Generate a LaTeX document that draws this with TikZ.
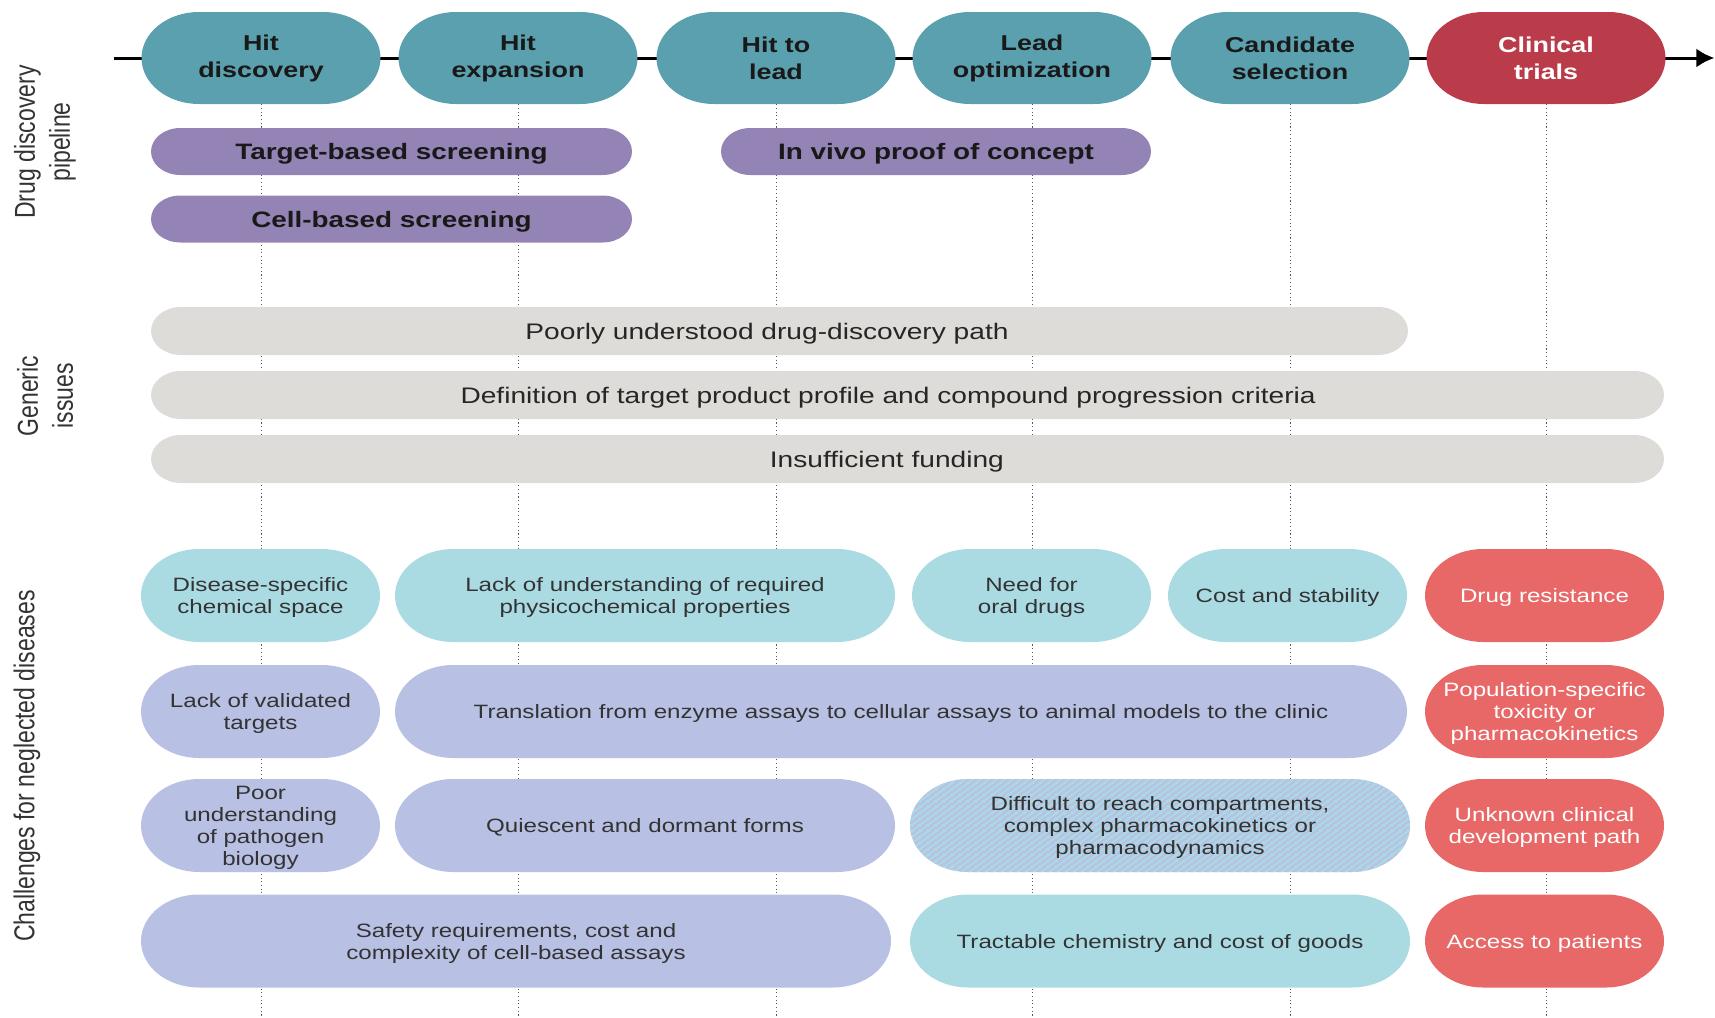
\documentclass[tikz,border=0pt]{standalone}
\usepackage{fontspec}
\setmainfont{Liberation Sans}
\usetikzlibrary{shapes.misc,arrows.meta,patterns}
\definecolor{tealc}{HTML}{5BA0AF}
\definecolor{redc}{HTML}{BA3B4A}
\definecolor{purplec}{HTML}{9483B5}
\definecolor{grayc}{HTML}{DDDCD8}
\definecolor{cyanc}{HTML}{AADBE3}
\definecolor{lavc}{HTML}{B8C0E4}
\definecolor{salc}{HTML}{E86868}
\pgfdeclarepatternformonly{wstripes}{\pgfqpoint{0pt}{0pt}}{\pgfqpoint{8pt}{6pt}}{\pgfqpoint{8pt}{6pt}}{%
  \pgfsetlinewidth{2.1pt}%
  \pgfpathmoveto{\pgfqpoint{-4pt}{-3pt}}\pgfpathlineto{\pgfqpoint{12pt}{9pt}}%
  \pgfpathmoveto{\pgfqpoint{-4pt}{3pt}}\pgfpathlineto{\pgfqpoint{4pt}{9pt}}%
  \pgfpathmoveto{\pgfqpoint{4pt}{-3pt}}\pgfpathlineto{\pgfqpoint{12pt}{3pt}}%
  \pgfusepath{stroke}}
\newcommand\fTop{\bfseries\fontsize{21.5}{27}\selectfont}
\newcommand\fPurp{\bfseries\fontsize{22.3}{27}\selectfont}
\newcommand\fGen{\fontsize{22.5}{27}\selectfont}
\newcommand\fChal{\fontsize{19.3}{22}\selectfont}
\newcommand\fSide{\fontsize{23}{28}\selectfont}
\tikzset{
  base/.style={rounded rectangle, inner sep=0pt, align=center},
  wd/.style={minimum width=#1pt/1.25},
  top/.style={base, fill=tealc, minimum height=92pt, wd=239, font=\fTop, text=black!90},
  purp/.style={base, fill=purplec, minimum height=47pt, text depth=0pt, font=\fPurp, text=black!90},
  genbar/.style={base, fill=grayc, minimum height=48pt, text depth=0pt, font=\fGen, text=black!85},
  chal/.style={base, minimum height=93pt, text depth=0pt, font=\fChal, text=black!80},
  cy/.style={chal, fill=cyanc},
  lav/.style={chal, fill=lavc},
  sal/.style={chal, fill=salc, text=white},
  hatch/.style={chal, preaction={fill=lavc}, pattern=wstripes, pattern color=cyanc},
  vdot/.style={draw=black!65, line width=1.1pt, dash pattern=on 1.1pt off 2.6pt},
  side/.style={rotate=90, font=\fSide, align=center, text=black!80},
}
\begin{document}
\begin{tikzpicture}[x=1pt,y=-1pt]
\useasboundingbox (0,0) rectangle (1715,1017);
\begin{scope}[x=0.8pt, y=-1pt, xscale=1.25, transform shape]
% side labels
\node[side] (lab1) at (45,142) {Drug discovery\\pipeline};
\node[side] (lab2) at (45,396) {Generic\\issues};
\node[side] (lab3) at (27,766) {Challenges for neglected diseases};
% timeline
\coordinate (lstart) at (114,58);
\coordinate (ltip) at (1714,58);
\draw[line width=3pt, -{Latex[length=18pt,width=19pt]}] (lstart) -- (ltip);
% top stages
\node[top] (p1) at (261,58) {Hit\\discovery};
\node[top] (p2) at (518,58) {Hit\\expansion};
\node[top] (p3) at (776,58) {Hit to\\lead};
\node[top] (p4) at (1032,58) {Lead\\optimization};
\node[top] (p5) at (1290,58) {Candidate\\selection};
\node[top, fill=redc, text=white] (p6) at (1546,58) {Clinical\\trials};
% dotted guides
\foreach \i/\x in {1/261,2/518,3/776,4/1032,5/1290,6/1546}{
  \coordinate (b\i) at (\x,1017);
  \draw[vdot] (p\i.south) -- (b\i);
}
% pipeline bars
\node[purp, wd=481] (tb) at (391.5,151.5) {Target-based screening};
\node[purp, wd=481] (cb) at (391.5,219) {Cell-based screening};
\node[purp, wd=430] (iv) at (936,151.5) {In vivo proof of concept};
% generic issues
\node[genbar, wd=1257] (g1) at (779.5,331) {Poorly understood drug-discovery path\hspace*{20pt}};
\node[genbar, wd=1513] (g2) at (907.5,395) {Definition of target product profile and compound progression criteria\hspace*{31pt}};
\node[genbar, wd=1513] (g3) at (907.5,459) {Insufficient funding\hspace*{33pt}};
% challenges
\node[cy, wd=239] (c11) at (260.5,595.5) {Disease-specific\\chemical space};
\node[cy, wd=500] (c12) at (645,595.5) {Lack of understanding of required\\physicochemical properties};
\node[cy, wd=239] (c13) at (1031.5,595.5) {Need for\\oral drugs};
\node[cy, wd=239] (c14) at (1287.5,595.5) {Cost and stability};
\node[sal, wd=239] (c15) at (1544.5,595.5) {Drug resistance};
\node[lav, wd=239] (c21) at (260.5,711.5) {Lack of validated\\targets};
\node[lav, wd=1012] (c22) at (901,711.5) {Translation from enzyme assays to cellular assays to animal models to the clinic};
\node[sal, wd=239] (c23) at (1544.5,711.5) {Population-specific\\toxicity or\\pharmacokinetics};
\node[lav, wd=239] (c31) at (260.5,825.5) {Poor\\understanding\\of pathogen\\biology};
\node[lav, wd=500] (c32) at (645,825.5) {Quiescent and dormant forms};
\node[hatch, wd=500] (c33) at (1160,825.5) {Difficult to reach compartments,\\complex pharmacokinetics or\\pharmacodynamics};
\node[sal, wd=239] (c34) at (1544.5,825.5) {Unknown clinical\\development path};
\node[lav, wd=750] (c41) at (516,941) {Safety requirements, cost and\\complexity of cell-based assays};
\node[cy, wd=500] (c42) at (1160,941) {Tractable chemistry and cost of goods};
\node[sal, wd=239] (c43) at (1544.5,941) {Access to patients};
\end{scope}
\end{tikzpicture}
\end{document}
